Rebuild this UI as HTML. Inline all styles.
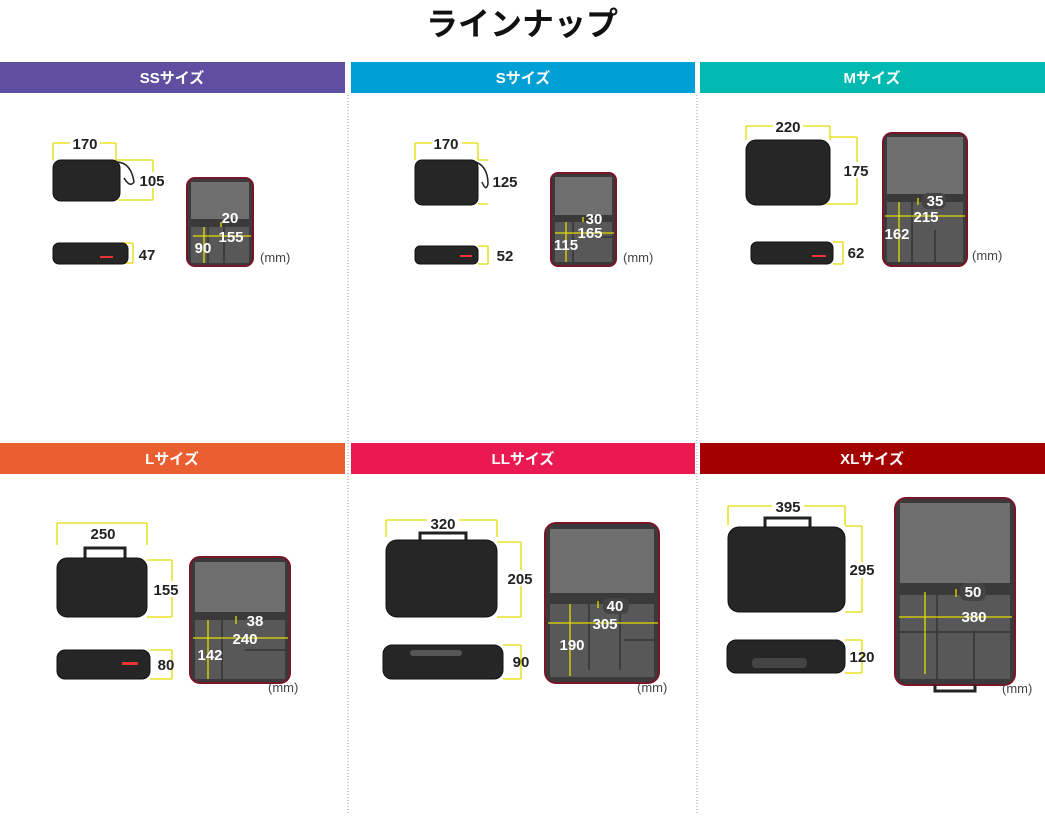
<!DOCTYPE html>
<html><head><meta charset="utf-8"><style>
html,body{margin:0;padding:0;background:#fff;}
svg{display:block;}
text{font-family:"Liberation Sans","Noto Sans CJK JP",sans-serif;}
.t{font-size:15px;font-weight:bold;fill:#222;text-anchor:middle;}
.w{font-size:15px;font-weight:bold;fill:#fff;text-anchor:middle;}
.h{font-size:15px;font-weight:bold;fill:#fff;text-anchor:middle;}
.mm{font-size:13px;fill:#444;}
.y{stroke:#e3dc00;stroke-width:1.3;fill:none;}
.c{fill:#262626;stroke:#111;stroke-width:1;}
.o{fill:#3a3a3a;stroke:#7a1527;stroke-width:2;}
.lid{fill:#6e6e6e;}
.base{fill:#585858;}
.dv{stroke:#3d3d3d;stroke-width:2;}
.bg{fill:#444;}
</style></head><body>
<svg width="1045" height="830" viewBox="0 0 1045 830" xmlns="http://www.w3.org/2000/svg">
<text x="522" y="35" font-size="32" font-weight="bold" text-anchor="middle" fill="#111">ラインナップ</text>

<rect x="0" y="62" width="345" height="31" fill="#5f4fa0"/>
<rect x="351" y="62" width="344" height="31" fill="#00a0d6"/>
<rect x="700" y="62" width="345" height="31" fill="#00b9b1"/>
<rect x="0" y="443" width="345" height="31" fill="#ea5f30"/>
<rect x="351" y="443" width="344" height="31" fill="#ea1a50"/>
<rect x="700" y="443" width="345" height="31" fill="#a30000"/>
<text class="h" x="172" y="83">SSサイズ</text>
<text class="h" x="523" y="83">Sサイズ</text>
<text class="h" x="872" y="83">Mサイズ</text>
<text class="h" x="172" y="464">Lサイズ</text>
<text class="h" x="523" y="464">LLサイズ</text>
<text class="h" x="872" y="464">XLサイズ</text>
<line x1="348" y1="95" x2="348" y2="815" stroke="#999" stroke-dasharray="1,2"/>
<line x1="697" y1="95" x2="697" y2="815" stroke="#999" stroke-dasharray="1,2"/>

<!-- SS -->
<path class="y" d="M53 143V160M116 143V160M53 143H116M116 160H153M118 200H153M153 160V200M120 243H133M120 263H133M133 243V263"/>
<rect x="70" y="134" width="30" height="16" fill="#fff"/><text class="t" x="85" y="149">170</text>
<rect class="c" x="53" y="160" width="67" height="41" rx="8"/>
<path d="M116 162 q15 0 18 20 q-4 6 -10 -4" stroke="#222" fill="none" stroke-width="1.5"/>
<rect x="138" y="172" width="28" height="16" fill="#fff"/><text class="t" x="152" y="186">105</text>
<rect class="c" x="53" y="243" width="75" height="21" rx="6"/>
<rect x="100" y="256" width="13" height="2" fill="#e33"/>
<text class="t" x="147" y="260">47</text>
<rect class="o" x="187" y="178" width="66" height="88" rx="8"/>
<rect class="lid" x="191" y="182" width="58" height="37"/>
<rect class="base" x="191" y="227" width="58" height="36"/>
<line class="dv" x1="208" y1="227" x2="208" y2="263"/><line class="dv" x1="224" y1="227" x2="224" y2="263"/>
<path class="y" d="M221 222V227M193 236H251M204 227V263"/>
<text class="w" x="230" y="223">20</text><text class="w" x="231" y="242">155</text><text class="w" x="203" y="253">90</text>
<text class="mm" x="260" y="262">(mm)</text>

<!-- S -->
<path class="y" d="M415 143V160M478 143V160M415 143H478M478 160H488M478 204H488"/>
<rect x="432" y="134" width="30" height="16" fill="#fff"/><text class="t" x="446" y="149">170</text>
<rect class="c" x="415" y="160" width="63" height="45" rx="7"/>
<path d="M476 162 q12 5 12 22 q-2 8 -6 -2" stroke="#222" fill="none" stroke-width="1.5"/>
<text class="t" x="505" y="187">125</text>
<rect class="c" x="415" y="246" width="63" height="18" rx="5"/>
<rect x="460" y="255" width="12" height="2" fill="#e33"/>
<path class="y" d="M478 246H488M478 264H488M488 246V264"/>
<text class="t" x="505" y="261">52</text>
<rect class="o" x="551" y="173" width="65" height="93" rx="7"/>
<rect class="lid" x="555" y="177" width="57" height="38"/>
<rect class="base" x="555" y="222" width="57" height="40"/>
<line class="dv" x1="573" y1="222" x2="573" y2="262"/><line class="dv" x1="595" y1="237" x2="612" y2="237"/>
<path class="y" d="M583 217V222M555 233H614M566 222V262"/>
<text class="w" x="594" y="224">30</text><text class="w" x="590" y="238">165</text><text class="w" x="566" y="250">115</text>
<text class="mm" x="623" y="262">(mm)</text>

<!-- M -->
<path class="y" d="M746 126V140M830 126V140M746 126H830M830 137H857M820 204H857M857 137V204"/>
<rect x="773" y="118" width="30" height="16" fill="#fff"/><text class="t" x="788" y="132">220</text>
<rect class="c" x="746" y="140" width="84" height="65" rx="10"/>
<rect x="842" y="162" width="28" height="16" fill="#fff"/><text class="t" x="856" y="176">175</text>
<rect class="c" x="751" y="242" width="82" height="22" rx="6"/>
<rect x="812" y="255" width="14" height="2" fill="#e33"/>
<path class="y" d="M833 242H843M833 264H843M843 242V264"/>
<text class="t" x="856" y="258">62</text>
<rect class="o" x="883" y="133" width="84" height="133" rx="9"/>
<rect class="lid" x="887" y="137" width="76" height="57"/>
<rect class="base" x="887" y="202" width="76" height="60"/>
<line class="dv" x1="912" y1="202" x2="912" y2="262"/><line class="dv" x1="935" y1="230" x2="935" y2="262"/>
<path class="y" d="M918 198V205M885 216H965M899 202V262"/>
<rect x="922" y="193" width="24" height="16" rx="6" class="bg"/><text class="w" x="935" y="206">35</text>
<text class="w" x="926" y="222">215</text><text class="w" x="897" y="239">162</text>
<text class="mm" x="972" y="260">(mm)</text>

<!-- L -->
<path class="y" d="M57 523V545M147 523V545M57 523H147M147 560H172M147 617H172M172 560V617"/>
<rect x="87" y="525" width="32" height="16" fill="#fff"/><text class="t" x="103" y="539">250</text>
<path d="M85 560 v-12 h40 v12" stroke="#222" stroke-width="3" fill="none"/>
<rect class="c" x="57" y="558" width="90" height="59" rx="10"/>
<rect x="152" y="581" width="28" height="16" fill="#fff"/><text class="t" x="166" y="595">155</text>
<rect class="c" x="57" y="650" width="93" height="29" rx="8"/>
<rect x="122" y="662" width="16" height="3" fill="#e33"/>
<path class="y" d="M150 650H172M150 679H172M172 650V679"/>
<text class="t" x="166" y="670">80</text>
<rect class="o" x="190" y="557" width="100" height="126" rx="10"/>
<rect class="lid" x="195" y="562" width="90" height="50"/>
<rect class="base" x="195" y="620" width="90" height="59"/>
<line class="dv" x1="222" y1="620" x2="222" y2="679"/><line class="dv" x1="245" y1="650" x2="285" y2="650"/>
<path class="y" d="M236 616V624M193 638H288M208 620V679"/>
<text class="w" x="255" y="626">38</text><text class="w" x="245" y="644">240</text><text class="w" x="210" y="660">142</text>
<text class="mm" x="268" y="692">(mm)</text>

<!-- LL -->
<path class="y" d="M386 520V537M497 520V537M386 520H497M497 542H521M497 617H521M521 542V617"/>
<rect x="427" y="514" width="32" height="16" fill="#fff"/><text class="t" x="443" y="529">320</text>
<path d="M420 542 v-9 h46 v9" stroke="#222" stroke-width="3" fill="none"/>
<rect class="c" x="386" y="540" width="111" height="77" rx="11"/>
<rect x="506" y="570" width="30" height="16" fill="#fff"/><text class="t" x="520" y="584">205</text>
<rect class="c" x="383" y="645" width="120" height="34" rx="9"/>
<rect x="410" y="650" width="52" height="6" rx="3" fill="#555"/>
<path class="y" d="M503 645H521M503 679H521M521 645V679"/>
<text class="t" x="521" y="667">90</text>
<rect class="o" x="545" y="523" width="114" height="160" rx="11"/>
<rect class="lid" x="550" y="529" width="104" height="64"/>
<rect class="base" x="550" y="604" width="104" height="73"/>
<line class="dv" x1="589" y1="604" x2="589" y2="670"/><line class="dv" x1="620" y1="604" x2="620" y2="670"/><line class="dv" x1="624" y1="640" x2="654" y2="640"/>
<path class="y" d="M598 601V608M548 623H658M570 604V676"/>
<rect x="603" y="598" width="26" height="16" rx="6" class="bg"/><text class="w" x="615" y="611">40</text>
<text class="w" x="605" y="629">305</text><text class="w" x="572" y="650">190</text>
<text class="mm" x="637" y="692">(mm)</text>

<!-- XL -->
<path class="y" d="M728 506V525M845 506V525M728 506H845M845 526H862M845 612H862M862 526V612"/>
<rect x="772" y="498" width="32" height="16" fill="#fff"/><text class="t" x="788" y="512">395</text>
<path d="M765 527 v-9 h45 v9" stroke="#222" stroke-width="3" fill="none"/>
<rect class="c" x="728" y="527" width="117" height="85" rx="11"/>
<rect x="848" y="562" width="30" height="16" fill="#fff"/><text class="t" x="862" y="575">295</text>
<rect class="c" x="727" y="640" width="118" height="33" rx="9"/>
<rect x="752" y="658" width="55" height="10" rx="4" fill="#444"/>
<path class="y" d="M845 640H862M845 673H862M862 640V673"/>
<text class="t" x="862" y="662">120</text>
<rect class="o" x="895" y="498" width="120" height="187" rx="11"/>
<rect class="lid" x="900" y="503" width="110" height="80"/>
<rect class="base" x="900" y="595" width="110" height="84"/>
<line class="dv" x1="937" y1="595" x2="937" y2="679"/><line class="dv" x1="974" y1="630" x2="974" y2="679"/><line class="dv" x1="900" y1="632" x2="1010" y2="632"/>
<path class="y" d="M956 589V597M899 617H1012M925 592V674"/>
<rect x="960" y="583" width="26" height="18" rx="7" class="bg"/><text class="w" x="973" y="597">50</text>
<text class="w" x="974" y="622">380</text>
<path d="M935 685 v6 h40 v-6" stroke="#222" stroke-width="3" fill="none"/>
<text class="mm" x="1002" y="693">(mm)</text>
</svg>
</body></html>
